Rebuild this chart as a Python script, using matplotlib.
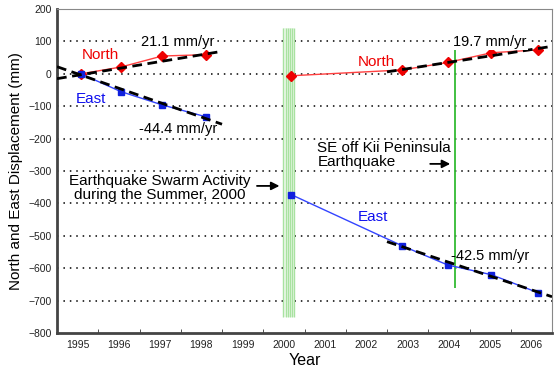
import numpy as np
import matplotlib
matplotlib.use('Agg')
import matplotlib.pyplot as plt

plt.rcParams['font.family'] = ['Liberation Sans', 'DejaVu Sans']

# observed displacements (year, mm)
yr_before = [1995.58, 1996.55, 1997.55, 1998.62]
north_before = [0, 21, 55, 59]
east_before = [0, -55, -96, -133]

yr_after = [2000.68, 2003.37, 2004.47, 2005.53, 2006.67]
north_after = [-6, 12, 35, 65, 74]
east_after = [-373, -531, -590, -620, -676]

# fitted trends: start year, end year, value at start, rate (mm/yr)
trend_start = [1995.0, 1995.0, 2003.0, 2003.0]
trend_end = [1999.0, 1999.0, 2007.0, 2007.0]
trend_y0 = [-15, 22, 6, -518]
trend_rate = [21.1, -44.4, 19.7, -42.5]

years = list(range(1995, 2007))
swarm_band = (2000.49, 2000.75)
kii_quake = 2004.66

fig = plt.figure(figsize=(5.59, 3.71), dpi=100)
ax = fig.add_axes([0.102, 0.1024, 0.8855, 0.8733])

# dotted grid
for v in range(-700, 200, 100):
    ax.axhline(v, color='black', lw=1.1, ls=(0, (1, 3.2)), zorder=1)

# swarm band
bx = np.linspace(swarm_band[0], swarm_band[1], 6)
ax.axvspan(swarm_band[0], swarm_band[1], ymin=(-750 + 800) / 1000,
           ymax=(141 + 800) / 1000, color='#eef9ec', lw=0, zorder=1)
ax.vlines(bx, -750, 141, color='#a8e2a0', lw=1, zorder=2)

# Kii earthquake
ax.vlines(kii_quake, -661, 76, color='#33bb33', lw=1.3, zorder=2)

# trends
for x0, x1, y0, r in zip(trend_start, trend_end, trend_y0, trend_rate):
    ax.plot([x0, x1], [y0, y0 + r * (x1 - x0)], color='black', lw=2,
            ls=(0, (3.5, 2)), zorder=4)

ax.plot(yr_before, north_before, color='#ff4040', lw=1, marker='D', ms=5.5,
        mfc='#ee0000', mec='#ee0000', zorder=3)
ax.plot(yr_after, north_after, color='#ff4040', lw=1, marker='D', ms=5.5,
        mfc='#ee0000', mec='#ee0000', zorder=3)
ax.plot(yr_before, east_before, color='#3344ff', lw=1, marker='s', ms=4.5,
        mfc='#1020dd', mec='#1020dd', zorder=3)
ax.plot(yr_after, east_after, color='#3344ff', lw=1, marker='s', ms=4.5,
        mfc='#1020dd', mec='#1020dd', zorder=3)

# texts
ax.text(1996.04, 58, 'North', color='#ee0000', fontsize=11, ha='center', va='center')
ax.text(2002.74, 36, 'North', color='#ee0000', fontsize=11, ha='center', va='center')
ax.text(1995.83, -77, 'East', color='#1010ee', fontsize=11, ha='center', va='center')
ax.text(2002.67, -442, 'East', color='#1010ee', fontsize=11, ha='center', va='center')
ax.text(1997.92, 98, '21.1 mm/yr', fontsize=10.5, ha='center', va='center',
        bbox=dict(fc='white', ec='none', pad=0.5), zorder=5)
ax.text(1997.94, -170, '-44.4 mm/yr', fontsize=10.5, ha='center', va='center')
ax.text(2004.61, 98, '19.7 mm/yr', fontsize=10.5, ha='left', va='center',
        bbox=dict(fc='white', ec='none', pad=0.5), zorder=5)
ax.text(2004.56, -562, '-42.5 mm/yr', fontsize=10.5, ha='left', va='center')
ax.text(1997.48, -352, 'Earthquake Swarm Activity\nduring the Summer, 2000',
        fontsize=11, ha='center', va='center', multialignment='center',
        linespacing=0.95, bbox=dict(fc='white', ec='none', pad=0.5), zorder=5)
ax.text(2001.31, -251, 'SE off Kii Peninsula\nEarthquake', fontsize=11,
        ha='left', va='center', linespacing=0.95,
        bbox=dict(fc='white', ec='none', pad=0.5), zorder=5)
ax.annotate('', xy=(2000.46, -346), xytext=(1999.78, -346),
            arrowprops=dict(arrowstyle='-|>', color='black', lw=1.3,
                            mutation_scale=12), zorder=6)
ax.annotate('', xy=(2004.6, -278), xytext=(2003.98, -278),
            arrowprops=dict(arrowstyle='-|>', color='black', lw=1.3,
                            mutation_scale=12), zorder=6)

ax.set_xlim(1995, 2007)
ax.set_ylim(-800, 200)
ax.set_yticks(range(-800, 201, 100))
ax.set_xticks([y + 0.5 for y in years])
ax.set_xticklabels([str(y) for y in years])
ax.set_xticks(range(1996, 2007), minor=True)
ax.tick_params(axis='x', which='major', length=0, labelsize=7.5,
               labelcolor='#222222', pad=5)
ax.tick_params(axis='x', which='minor', direction='in', length=3, color='#333333')
ax.tick_params(axis='y', length=0, labelsize=7.5, labelcolor='#222222', pad=4)

for s in ['left', 'bottom']:
    ax.spines[s].set_color('#444444')
    ax.spines[s].set_linewidth(2)
for s in ['top', 'right']:
    ax.spines[s].set_color('#888888')
    ax.spines[s].set_linewidth(0.8)

ax.set_xlabel('Year', fontsize=11.5, labelpad=2)
ax.set_ylabel('North and East Displacement (mm)', fontsize=11, labelpad=4)

fig.savefig('out.png', dpi=100)
